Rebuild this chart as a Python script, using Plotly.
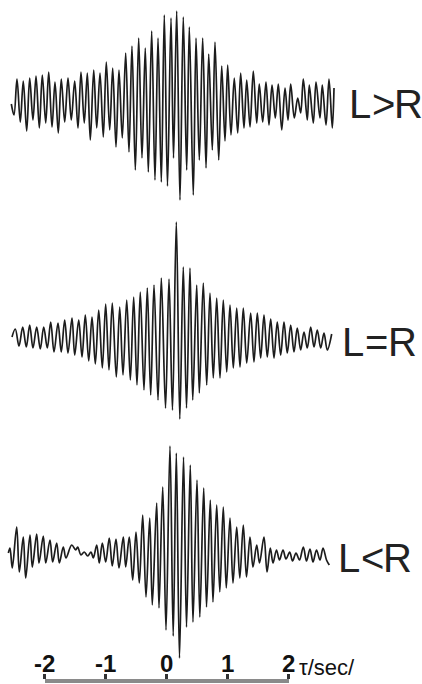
import plotly.graph_objects as go

# Cross-correlation traces: extremum times (s) and relative amplitudes
tau_l_gt_r = [-2.544, -2.500, -2.451, -2.397, -2.348, -2.292, -2.243, -2.189, -2.139, -2.085,
              -2.036, -1.980, -1.931, -1.877, -1.828, -1.774, -1.725, -1.669, -1.615, -1.561,
              -1.505, -1.451, -1.402, -1.348, -1.298, -1.249, -1.193, -1.144, -1.090, -1.036,
              -0.987, -0.931, -0.882, -0.828, -0.779, -0.725, -0.669, -0.615, -0.566, -0.511,
              -0.456, -0.402, -0.348, -0.298, -0.243, -0.189, -0.139, -0.085, -0.036, 0.016,
              0.074, 0.115, 0.167, 0.221, 0.275, 0.331, 0.374, 0.439, 0.484, 0.538,
              0.593, 0.648, 0.692, 0.751, 0.795, 0.856, 0.905, 0.959, 1.003, 1.057,
              1.111, 1.167, 1.216, 1.270, 1.315, 1.369, 1.423, 1.479, 1.521, 1.577,
              1.631, 1.680, 1.730, 1.784, 1.833, 1.889, 1.943, 1.992, 2.036, 2.095,
              2.151, 2.200, 2.243, 2.308, 2.341, 2.407, 2.451, 2.516, 2.554, 2.615,
              2.664, 2.718, 2.746]
amp_l_gt_r = [-0.03, -0.14, 0.22, -0.21, 0.20, -0.30, 0.23, -0.19, 0.25, -0.27,
              0.26, -0.22, 0.29, -0.26, 0.19, -0.32, 0.22, -0.21, 0.23, -0.19,
              0.20, -0.27, 0.29, -0.22, 0.28, -0.39, 0.31, -0.27, 0.28, -0.36,
              0.39, -0.29, 0.33, -0.46, 0.31, -0.37, 0.48, -0.51, 0.55, -0.69,
              0.63, -0.57, 0.53, -0.71, 0.70, -0.79, 0.63, -0.81, 0.86, -0.85,
              0.83, -0.57, 0.90, -0.99, 0.84, -0.69, 0.74, -0.94, 0.63, -0.59,
              0.63, -0.67, 0.47, -0.49, 0.59, -0.59, 0.35, -0.40, 0.36, -0.34,
              0.23, -0.32, 0.28, -0.27, 0.21, -0.26, 0.30, -0.22, 0.17, -0.21,
              0.19, -0.24, 0.16, -0.17, 0.17, -0.29, 0.13, -0.19, 0.17, -0.17,
              0.03, -0.12, 0.22, -0.19, 0.16, -0.22, 0.19, -0.17, 0.16, -0.24,
              0.22, -0.27, 0.13]

tau_l_eq_r = [-2.533, -2.479, -2.418, -2.357, -2.298, -2.243, -2.189, -2.128, -2.069, -2.013,
              -1.954, -1.898, -1.844, -1.779, -1.725, -1.669, -1.615, -1.549, -1.505, -1.439,
              -1.385, -1.331, -1.275, -1.221, -1.167, -1.111, -1.052, -0.997, -0.943, -0.889,
              -0.823, -0.767, -0.713, -0.652, -0.593, -0.538, -0.484, -0.430, -0.369, -0.315,
              -0.259, -0.205, -0.139, -0.085, -0.016, 0.041, 0.098, 0.161, 0.218, 0.275,
              0.328, 0.385, 0.430, 0.495, 0.538, 0.603, 0.659, 0.713, 0.767, 0.823,
              0.877, 0.931, 0.987, 1.041, 1.095, 1.151, 1.205, 1.259, 1.315, 1.380,
              1.434, 1.489, 1.544, 1.598, 1.652, 1.708, 1.762, 1.816, 1.872, 1.926,
              1.980, 2.036, 2.090, 2.144, 2.200, 2.254, 2.308, 2.364, 2.418, 2.472,
              2.528, 2.582, 2.636, 2.708]
amp_l_eq_r = [0.02, 0.10, -0.07, 0.12, -0.08, 0.14, -0.09, 0.12, -0.10, 0.12,
              -0.09, 0.17, -0.13, 0.16, -0.13, 0.19, -0.14, 0.21, -0.16, 0.19,
              -0.18, 0.24, -0.22, 0.22, -0.25, 0.29, -0.29, 0.35, -0.31, 0.36,
              -0.38, 0.32, -0.36, 0.39, -0.41, 0.42, -0.46, 0.47, -0.51, 0.51,
              -0.56, 0.54, -0.61, 0.61, -0.69, 0.60, -0.71, 1.17, -0.80, 0.72,
              -0.69, 0.71, -0.61, 0.54, -0.54, 0.56, -0.46, 0.46, -0.39, 0.41,
              -0.39, 0.39, -0.33, 0.34, -0.29, 0.31, -0.28, 0.31, -0.24, 0.26,
              -0.23, 0.26, -0.19, 0.24, -0.18, 0.20, -0.19, 0.17, -0.16, 0.17,
              -0.14, 0.14, -0.13, 0.11, -0.11, 0.07, -0.09, 0.12, -0.08, 0.09,
              -0.09, 0.06, -0.11, 0.05]

tau_l_lt_r = [-2.593, -2.566, -2.528, -2.456, -2.413, -2.348, -2.308, -2.238, -2.200, -2.128,
              -2.090, -2.020, -1.980, -1.910, -1.866, -1.800, -1.757, -1.692, -1.648, -1.554,
              -1.489, -1.456, -1.402, -1.348, -1.292, -1.238, -1.200, -1.144, -1.102, -1.052,
              -0.997, -0.938, -0.889, -0.828, -0.779, -0.708, -0.669, -0.610, -0.554, -0.500,
              -0.446, -0.390, -0.336, -0.275, -0.233, -0.161, -0.123, -0.062, -0.008, 0.057,
              0.110, 0.161, 0.213, 0.279, 0.328, 0.390, 0.434, 0.500, 0.546, 0.610,
              0.656, 0.718, 0.762, 0.823, 0.874, 0.931, 0.980, 1.041, 1.090, 1.151,
              1.202, 1.259, 1.311, 1.369, 1.418, 1.479, 1.525, 1.598, 1.648, 1.702,
              1.746, 1.803, 1.852, 1.910, 1.959, 2.020, 2.066, 2.123, 2.180, 2.243,
              2.295, 2.352, 2.402, 2.459, 2.516, 2.566, 2.623, 2.669]
amp_l_lt_r = [0.01, 0.06, -0.14, 0.27, -0.18, 0.17, -0.24, 0.19, -0.13, 0.20,
              -0.09, 0.18, -0.09, 0.14, -0.08, 0.11, -0.09, 0.07, -0.04, 0.09,
              0.04, 0.07, -0.01, 0.02, -0.02, 0.02, -0.04, 0.09, -0.09, 0.11,
              -0.08, 0.16, -0.12, 0.15, -0.14, 0.17, -0.13, 0.17, -0.26, 0.22,
              -0.29, 0.39, -0.43, 0.36, -0.51, 0.51, -0.54, 0.67, -0.76, 1.08,
              -0.82, 1.01, -1.04, 0.97, -0.73, 0.89, -0.68, 0.74, -0.63, 0.66,
              -0.53, 0.54, -0.48, 0.49, -0.38, 0.47, -0.34, 0.36, -0.29, 0.27,
              -0.24, 0.29, -0.23, 0.17, -0.13, 0.09, -0.09, 0.17, -0.18, 0.06,
              -0.09, 0.04, -0.06, 0.04, -0.05, 0.02, -0.07, 0.01, -0.06, 0.07,
              -0.07, 0.05, -0.08, 0.04, -0.06, 0.06, -0.06, -0.11]

trace_labels = ["L > R", "L = R", "L < R"]
tick_vals = [-2, -1, 0, 1, 2]
tick_text = ["-2", "-1", "0", "1", "2"]
axis_unit = "τ/sec/"

# ---- layout geometry (pixels) ----
W, H = 422, 684
PX_PER_SEC = 61.0          # horizontal scale of the time axis
ZERO_PX = 166.5            # x pixel of tau = 0
PX_PER_UNIT = 100.0        # vertical scale of the amplitude
BASELINES = [101, 339, 554]  # y pixel of each trace's zero line
RULER_Y = 680.5
TICK_LABEL_Y = 663
INK = "#1c1c1c"
FONT = "Liberation Sans, Arial, sans-serif"

series = [(tau_l_gt_r, amp_l_gt_r), (tau_l_eq_r, amp_l_eq_r), (tau_l_lt_r, amp_l_lt_r)]

fig = go.Figure()
layout_axes = {}
for i, ((t, a), base) in enumerate(zip(series, BASELINES)):
    yname = "y" if i == 0 else f"y{i + 1}"
    fig.add_trace(go.Scatter(
        x=t, y=a, mode="lines", xaxis="x", yaxis=yname,
        line=dict(color=INK, width=1.7, shape="spline", smoothing=1.0),
        hoverinfo="skip", showlegend=False))
    key = "yaxis" if i == 0 else f"yaxis{i + 1}"
    ax = dict(range=[(base - H) / PX_PER_UNIT, base / PX_PER_UNIT], visible=False,
              domain=[0, 1], fixedrange=True)
    if i > 0:
        ax["overlaying"] = "y"
    layout_axes[key] = ax

# invisible anchor trace so the time ruler gets its own subplot
fig.add_trace(go.Scatter(x=tick_vals, y=[0] * len(tick_vals), xaxis="x2", yaxis="y4",
                         mode="markers", marker=dict(opacity=0), hoverinfo="skip",
                         showlegend=False))

x0_px = ZERO_PX + tick_vals[0] * PX_PER_SEC
x1_px = ZERO_PX + tick_vals[-1] * PX_PER_SEC

fig.update_layout(
    width=W, height=H,
    margin=dict(l=0, r=0, t=0, b=0),
    paper_bgcolor="white", plot_bgcolor="rgba(0,0,0,0)",
    xaxis=dict(range=[-ZERO_PX / PX_PER_SEC, (W - ZERO_PX) / PX_PER_SEC],
               visible=False, domain=[0, 1], fixedrange=True),
    xaxis2=dict(range=[tick_vals[0], tick_vals[-1]], domain=[x0_px / W, x1_px / W],
                anchor="free", position=(H - RULER_Y) / H, side="top",
                showline=True, linecolor="#8a8a8a", linewidth=4,
                ticks="outside", ticklen=5, tickwidth=2.5, tickcolor="#333",
                tickvals=tick_vals, showticklabels=False,
                showgrid=False, zeroline=False, fixedrange=True),
    yaxis4=dict(range=[-1, 1], visible=False, domain=[0, 1], anchor="x2",
                overlaying="y", fixedrange=True),
    **layout_axes,
)

# tick labels sitting just above the ruler
for v, txt in zip(tick_vals, tick_text):
    fig.add_annotation(text=txt, xref="x2", yref="paper", x=v, y=1 - TICK_LABEL_Y / H,
                       xanchor="center", yanchor="middle", showarrow=False,
                       font=dict(family=FONT, size=24, color="#111", weight="bold"))

# time-unit label after the last tick
fig.add_annotation(text=axis_unit, xref="paper", yref="paper",
                   x=(x1_px + 8) / W, y=1 - 667 / H, xanchor="left", yanchor="middle",
                   showarrow=False, font=dict(family=FONT, size=22, color="#111"))

# trace labels, one glyph at a time for tight spacing
char_x = [[360.0, 383.5, 408.0], [353.0, 376.0, 402.5], [349.0, 372.0, 397.0]]
label_y = [104, 341.7, 558]
for label, xs, yc in zip(trace_labels, char_x, label_y):
    for ch, xc in zip(label.split(" "), xs):
        fig.add_annotation(text=ch, xref="paper", yref="paper", x=xc / W, y=1 - yc / H,
                           xanchor="center", yanchor="middle", showarrow=False,
                           font=dict(family=FONT, size=40, color="#222"))

fig.write_html("out.html")
